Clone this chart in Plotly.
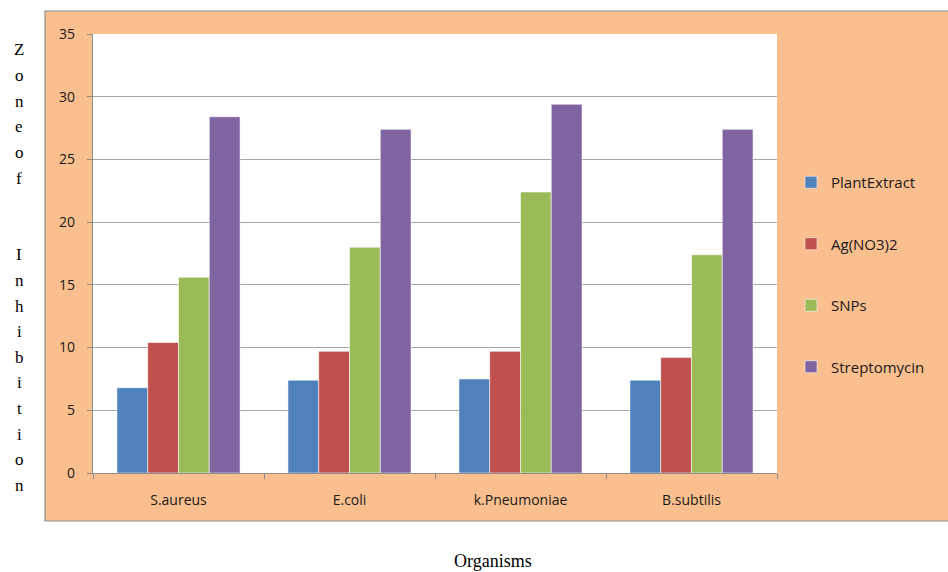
import plotly.graph_objects as go

# Zone of inhibition (mm) per organism and treatment
organisms = ["S.aureus", "E.coli", "k.Pneumoniae", "B.subtilis"]
plant_extract = [6.8, 7.4, 7.5, 7.4]
ag_no3 = [10.4, 9.7, 9.7, 9.2]
snps = [15.6, 18.0, 22.4, 17.4]
streptomycin = [28.4, 27.4, 29.4, 27.4]
y_ticks = [0, 5, 10, 15, 20, 25, 30, 35]

series = [
    ("PlantExtract", plant_extract, "#4F81BD"),
    ("Ag(NO3)2", ag_no3, "#C0504D"),
    ("SNPs", snps, "#9BBB59"),
    ("Streptomycin", streptomycin, "#8064A2"),
]

W, H = 948, 572
L, R, T, B = 93, 171, 34, 99
pw, ph = W - L - R, H - T - B


def px_x(x):
    return (x - L) / pw


def px_y(y):
    return (H - B - y) / ph


fig = go.Figure()
for i, (name, vals, color) in enumerate(series):
    fig.add_trace(go.Bar(
        x=organisms, y=vals, name=name, legendgroup=f"g{i}",
        marker=dict(color=color, line=dict(color="rgba(255,255,255,0.55)", width=1)),
    ))

axis_grey = "#8C8C8C"
tick_font = dict(family="Open Sans, Lato, sans-serif", size=14, color="#1A1A1A")

fig.update_layout(
    width=W, height=H,
    margin=dict(l=L, r=R, t=T, b=B),
    paper_bgcolor="white", plot_bgcolor="white",
    barmode="group", bargap=0.28, bargroupgap=0,
    showlegend=True,
    legend=dict(
        x=px_x(791), xanchor="left", y=px_y(166), yanchor="top",
        bgcolor="rgba(0,0,0,0)", traceorder="grouped", tracegroupgap=39,
        font=dict(family="Open Sans, Lato, sans-serif", size=15, color="#1A1A1A"),
    ),
    xaxis=dict(
        showline=True, linecolor=axis_grey, linewidth=1.3,
        ticks="outside", tickson="boundaries", ticklen=5, tickcolor=axis_grey,
        tickfont=tick_font, ticklabelstandoff=14, showgrid=False,
    ),
    yaxis=dict(
        range=[0, 35], tickvals=y_ticks, showline=True, linecolor=axis_grey,
        linewidth=1.3, ticks="outside", ticklen=5, tickcolor=axis_grey,
        tickfont=tick_font, ticklabelstandoff=9,
        showgrid=True, gridcolor="#A6A6A6", gridwidth=1.3, zeroline=False,
    ),
    shapes=[
        # chart-area panel
        dict(type="rect", xref="paper", yref="paper", layer="below",
             x0=px_x(45), x1=px_x(949), y0=px_y(521), y1=px_y(11),
             fillcolor="#F9BF8F", line=dict(color="#8F8F8F", width=1.2)),
        # white plotting area
        dict(type="rect", xref="paper", yref="paper", layer="below",
             x0=0, x1=1, y0=0, y1=1, fillcolor="white", line=dict(width=0)),
    ],
)

# Vertical stacked axis title, one character per line
title_chars = list("Zoneof") + ["", ""] + list("Inhibition")
line_step = 25.6
for k, ch in enumerate(title_chars):
    if not ch:
        continue
    fig.add_annotation(
        text=ch, xref="paper", yref="paper", x=px_x(19), y=px_y(50 + k * line_step),
        xanchor="center", yanchor="middle", showarrow=False,
        font=dict(family="Liberation Serif, Times New Roman, serif", size=17, color="black"),
    )

fig.add_annotation(
    text="Organisms", xref="paper", yref="paper", x=px_x(493), y=px_y(561),
    xanchor="center", yanchor="middle", showarrow=False,
    font=dict(family="Liberation Serif, Times New Roman, serif", size=18, color="black"),
)

fig.write_html("out.html")
